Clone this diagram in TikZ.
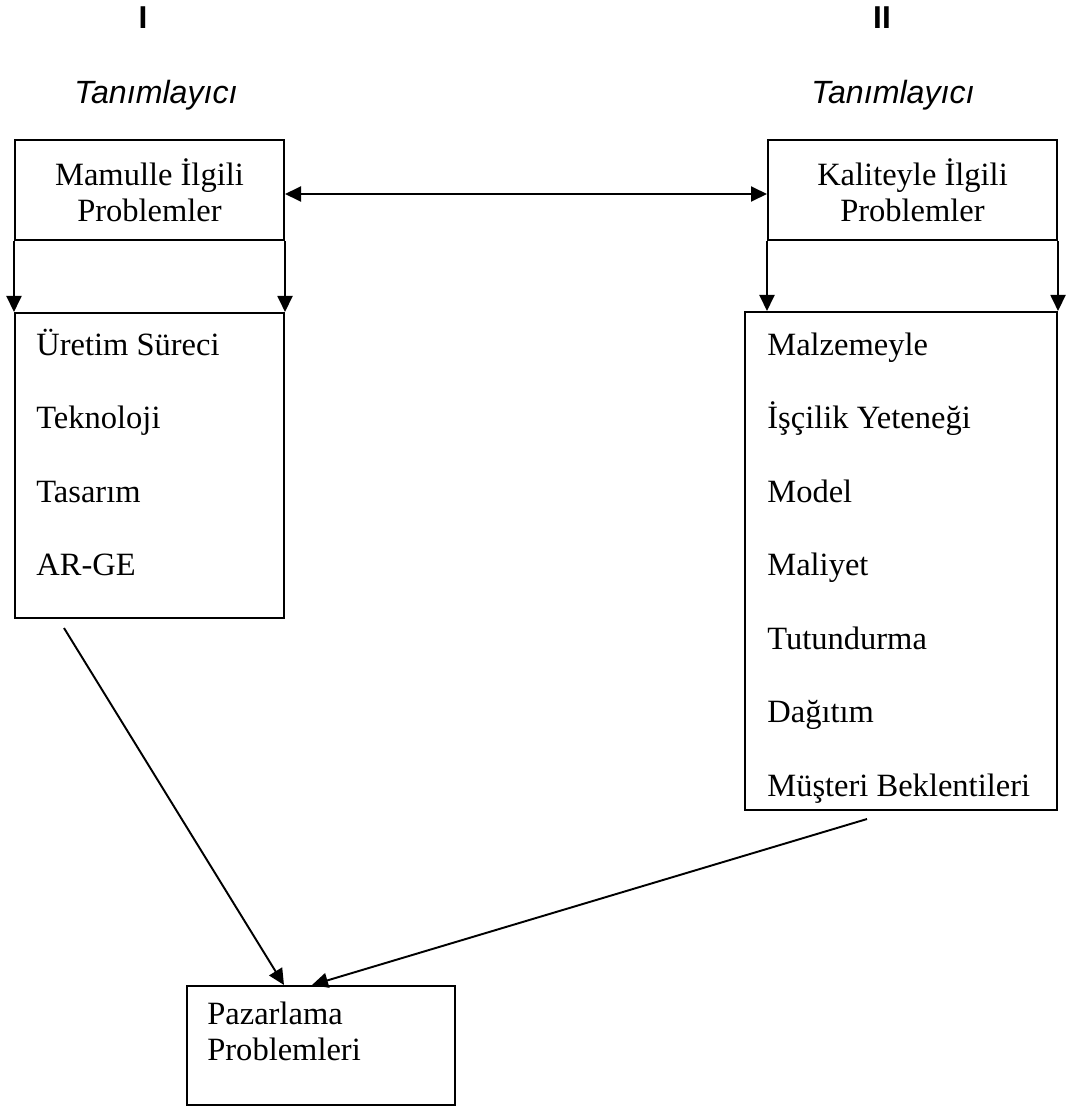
\documentclass[tikz,border=0pt]{standalone}
\usepackage{fontspec}
\setmainfont{Liberation Serif}
\newfontfamily\labelfont{Liberation Sans}
\usetikzlibrary{arrows.meta,positioning}

\begin{document}
\begin{tikzpicture}[
  font=\fontsize{18.5}{20.5}\selectfont,
  every node/.style={align=center},
  >={Triangle[length=0.32cm,width=0.3cm]},
  heading/.style={font=\fontsize{18}{20}\selectfont\labelfont\bfseries},
  descriptor/.style={font=\fontsize{18.3}{20}\selectfont\labelfont\itshape},
  problem/.style={draw, line width=1.15pt, inner sep=0pt},
  item/.style={anchor=base west, inner sep=0pt},
  flow/.style={->, line width=1.1pt},
  twoway/.style={<->, line width=1.1pt}]
\useasboundingbox (0,0) rectangle (21.52,-22.2);
\node[heading] (romanI) at (2.86,-0.36) {I};
\node[heading] (romanII) at (17.64,-0.36) {II};
\node[descriptor] (descLeft) at (3.12,-1.9) {Tanımlayıcı};
\node[descriptor] (descRight) at (17.86,-1.9) {Tanımlayıcı};
\node[problem, minimum width=5.38cm, minimum height=2cm] (mamul)
  at (2.99,-3.8) {Mamulle İlgili\\Problemler};
\node[problem, minimum width=5.78cm, minimum height=2cm] (kalite)
  at (18.25,-3.8) {Kaliteyle İlgili\\Problemler};
\draw[twoway] ([yshift=-0.08cm]mamul.east)
  -- ([yshift=-0.08cm]mamul.east -| kalite.west);
\node[problem, minimum width=5.38cm, minimum height=6.1cm] (mamulList)
  at (2.99,-9.31) {};
\node[problem, minimum width=6.24cm, minimum height=9.96cm] (kaliteList)
  at (18.02,-11.22) {};
\draw[flow] (mamul.south west) -- (mamulList.north west);
\draw[flow] (mamul.south east) -- (mamulList.north east);
\draw[flow] (kalite.south west) -- (kalite.south west |- kaliteList.north);
\draw[flow] (kalite.south east) -- (kaliteList.north east);
\foreach \entry [count=\k from 0] in {Üretim Süreci, Teknoloji, Tasarım, AR-GE}
  \node[item] (mamulItem\k) at (0.72,{-7.1-1.47*\k}) {\entry};
\foreach \entry [count=\k from 0] in {Malzemeyle, İşçilik Yeteneği, Model,
    Maliyet, Tutundurma, Dağıtım, Müşteri Beklentileri}
  \node[item] (kaliteItem\k) at (15.34,{-7.1-1.47*\k}) {\entry};
\node[problem, minimum width=5.36cm, minimum height=2.38cm] (pazar)
  at (6.42,-20.91) {};
\node[anchor=north west, align=left, inner sep=0pt] (pazarText)
  at ([xshift=0.42cm,yshift=-0.34cm]pazar.north west)
  {Pazarlama\\Problemleri};
\draw[flow] ([xshift=1cm,yshift=-0.18cm]mamulList.south west)
  -- ([xshift=1.96cm]pazar.north west);
\draw[flow] ([xshift=2.46cm,yshift=-0.16cm]kaliteList.south west)
  -- ([xshift=2.52cm]pazar.north west);
\end{tikzpicture}
\end{document}
